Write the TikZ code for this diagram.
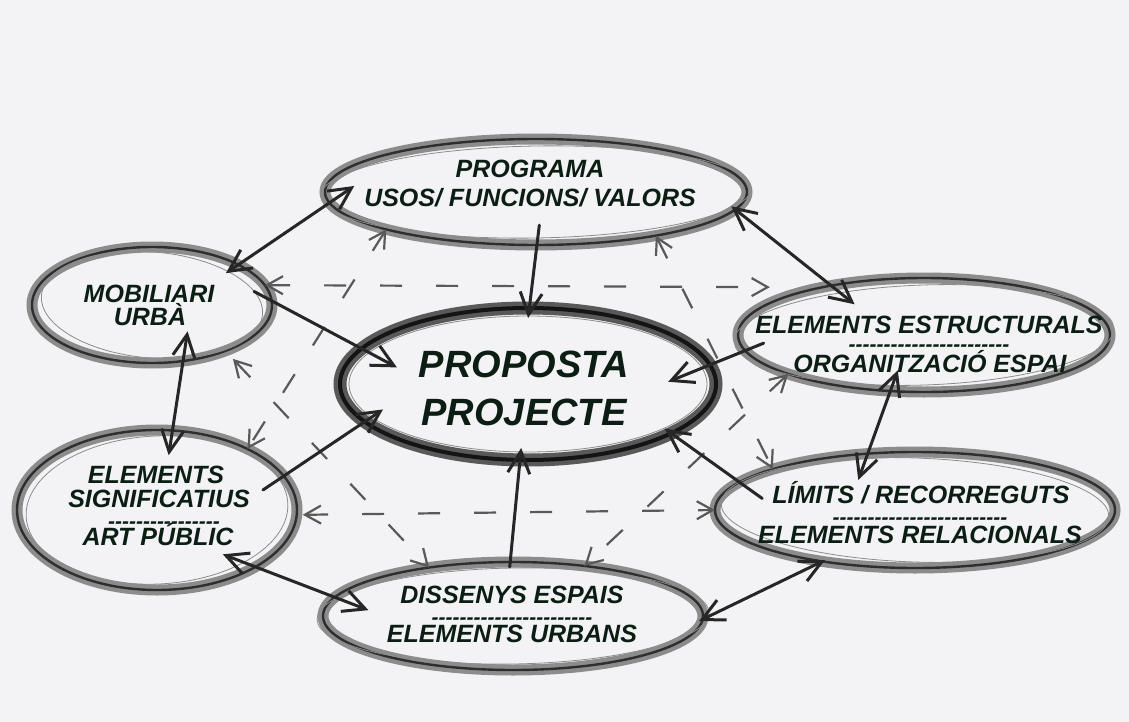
\documentclass[tikz,border=0pt]{standalone}
\usepackage{fontspec}
\newfontfamily\lab{Liberation Sans}
\usetikzlibrary{arrows.meta,shapes.geometric}
\definecolor{paper}{RGB}{243,243,245}
\definecolor{txt}{RGB}{12,30,20}
\begin{document}
\begin{tikzpicture}[x=1pt,y=-1pt,
  ring/.style={ellipse, draw=black!82, line width=2.4pt, inner sep=0pt, outer sep=0pt,
    preaction={draw=black!45, line width=11pt}},
  core/.style={ring, draw=black!92, line width=4pt, preaction={draw=black!65, line width=13pt}},
  sketch/.style={draw=black!45, line width=0.8pt},
  conn/.style={draw=black!85, line width=3pt, line cap=round, >={Straight Barb[length=22pt,width=22pt]}},
  link/.style={draw=black!65, line width=2.2pt, dash pattern=on 22pt off 34pt, >={Straight Barb[length=16pt,width=18pt]}},
  lbl/.style={font=\lab\fontsize{25}{30}\selectfont\bfseries\itshape, text=txt, inner sep=0pt, anchor=base},
  big/.style={lbl, font=\lab\fontsize{38}{44}\selectfont\bfseries\itshape},
  sep/.style={lbl, font=\lab\fontsize{21}{21}\selectfont\bfseries\itshape, text height=8pt, text depth=-3pt},
]
\fill[paper] (0,0) rectangle (1129,722);
\useasboundingbox (0,0) rectangle (1129,722);

% ellipses
\node[ring, minimum width=422pt, minimum height=106pt] (P) at (536,192) {};
\node[ring, minimum width=240pt, minimum height=116pt] (M) at (152,305) {};
\node[ring, minimum width=280pt, minimum height=160pt] (S) at (157,510) {};
\node[core, minimum width=376pt, minimum height=152pt] (C) at (528,384) {};
\node[ring, minimum width=372pt, minimum height=114pt] (E) at (924,335) {};
\node[ring, minimum width=400pt, minimum height=116pt] (L) at (915,510) {};
\node[ring, minimum width=380pt, minimum height=108pt] (D) at (513,616) {};

% sketchy extra strokes
\draw[sketch, rotate around={1:(P.center)}] (P.center) ellipse [x radius=215, y radius=46];
\draw[sketch, rotate around={-5:(M.center)}] (M.center) ellipse [x radius=111, y radius=53];
\draw[sketch, rotate around={3:(S.center)}] (S.center) ellipse [x radius=131, y radius=74];
\draw[sketch] (C.center) ellipse [x radius=179, y radius=68];
\draw[sketch, rotate around={2:(E.center)}] (E.center) ellipse [x radius=190, y radius=50];
\draw[sketch, rotate around={-2:(L.center)}] (L.center) ellipse [x radius=194, y radius=52];
\draw[sketch, rotate around={1:(D.center)}] (D.center) ellipse [x radius=196, y radius=48];

% dashed links
\draw[link, <->, shorten >=52pt] (M.10) -- (E.155);
\draw[link, <->, shorten <=6pt] (S.-2) -- (L.180);
\draw[link, <->] (P.194) -- (S.34);
\draw[link, <->] (P.-20.6) -- (L.164.6);
\draw[link, <->, shorten <=11pt] (M.-32) -- (D.150.5);
\draw[link, <->] (E.196) -- (D.35.5);

% solid connectors
\draw[conn, ->, shorten <=-20pt, shorten >=-10pt] (P.-89) -- (C.89);
\draw[conn, <->, shorten <=-15pt, shorten >=-30pt] (M.25) -- (P.183);
\draw[conn, <->, shorten <=-5pt, shorten >=-30pt] (P.-5) -- (E.152);
\draw[conn, ->, shorten <=-20pt, shorten >=-40pt] (M.2) -- (C.168);
\draw[conn, <->, shorten <=-30pt, shorten >=-25pt] (M.-61) -- (S.79);
\draw[conn, ->, shorten <=-25pt, shorten >=-22pt] (S.15) -- (C.193);
\draw[conn, ->, shorten <=-5pt, shorten >=-12pt] (D.93) -- (C.-96);
\draw[conn, ->, shorten <=-28pt, shorten >=-8pt] (L.171) -- (C.-19);
\draw[conn, ->, shorten <=-20pt, shorten >=-45pt] (E.185) -- (C.6);
\draw[conn, <->, shorten <=-22pt, shorten >=-28pt] (E.-121) -- (L.130);
\draw[conn, <->, shorten <=-35pt, shorten >=-36pt] (S.-30) -- (D.174);
\draw[conn, <->, shorten <=-4pt, shorten >=-3pt] (D.-1) -- (L.-151);

% texts
\node[lbl] (P1) at (530,178) {PROGRAMA};
\node[lbl] (P2) at (530,207) {USOS/ FUNCIONS/ VALORS};
\node[big] (C1) at (524,377) {PROPOSTA};
\node[big] (C2) at (524,425) {PROJECTE};
\node[lbl] (M1) at (149,302) {MOBILIARI};
\node[lbl] (M2) at (150,325) {URBÀ};
\node[lbl] (S1) at (156,483) {ELEMENTS};
\node[lbl] (S2) at (159,507) {SIGNIFICATIUS};
\node[sep] (S3) at (164,528) {----------------};
\node[lbl] (S4) at (158,545) {ART PÚBLIC};
\node[lbl] (E1) at (929,333) {ELEMENTS ESTRUCTURALS};
\node[sep] (E2) at (929,351) {-----------------------};
\node[lbl] (E3) at (930,372) {ORGANITZACIÓ ESPAI};
\node[lbl] (L1) at (921,503) {LÍMITS / RECORREGUTS};
\node[sep] (L2) at (920,524) {-------------------------};
\node[lbl] (L3) at (920,543) {ELEMENTS RELACIONALS};
\node[lbl] (D1) at (512,603) {DISSENYS ESPAIS};
\node[sep] (D2) at (512,624) {-----------------------};
\node[lbl] (D3) at (512,642) {ELEMENTS URBANS};
\end{tikzpicture}
\end{document}
